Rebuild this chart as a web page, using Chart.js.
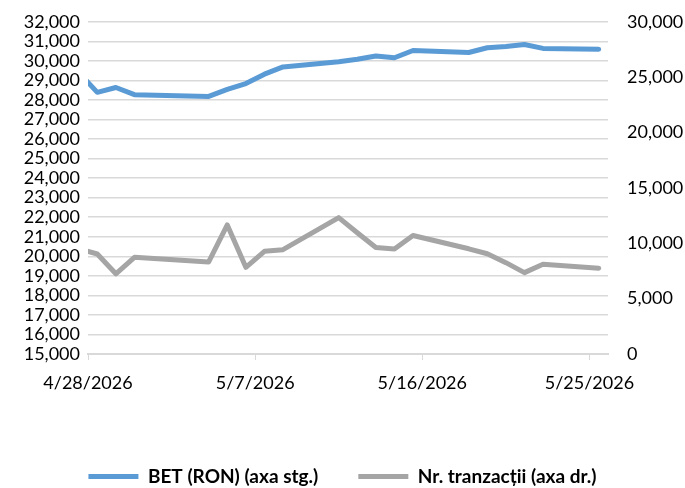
<!DOCTYPE html>
<html>
<head>
<meta charset="utf-8">
<script src="https://cdn.jsdelivr.net/npm/chart.js@4"></script>
<style>
  body { margin: 0; background: #ffffff; }
  #wrap { width: 685px; height: 488px; }
</style>
</head>
<body>
<div id="wrap"><canvas id="myChart" width="685" height="488"></canvas></div>
<script>
// trading days (first one falls just left of the axis and is clipped)
const dates = ['2026-04-27', '2026-04-28', '2026-04-29', '2026-04-30', '2026-05-04',
  '2026-05-05', '2026-05-06', '2026-05-07', '2026-05-08', '2026-05-11',
  '2026-05-12', '2026-05-13', '2026-05-14', '2026-05-15', '2026-05-18',
  '2026-05-19', '2026-05-20', '2026-05-21', '2026-05-22', '2026-05-25'];
const betValues = [29400, 28390, 28640, 28270, 28180,
  28540, 28840, 29320, 29690, 29960,
  30080, 30250, 30160, 30530, 30430,
  30670, 30740, 30840, 30640, 30600];
const tradeCounts = [9500, 9030, 7240, 8730, 8310,
  11660, 7830, 9270, 9420, 12320,
  10950, 9620, 9480, 10700, 9500,
  9050, 8250, 7350, 8100, 7750];
const seriesNames = ['BET (RON) (axa stg.)', 'Nr. tranzacții (axa dr.)'];
const axisStart = '2026-04-28';
const axisDays = 28;

const DAY = 86400000;
const t0 = Date.parse(axisStart + 'T00:00:00Z');
// points sit in the middle of their day
const xOf = d => (Date.parse(d + 'T00:00:00Z') - t0) / DAY + 0.5;
const fmtDate = v => {
  const d = new Date(t0 + v * DAY);
  return (d.getUTCMonth() + 1) + '/' + d.getUTCDate() + '/' + d.getUTCFullYear();
};
const fmtNum = v => v.toLocaleString('en-US');

const blue = '#5B9BD5';
const gray = '#A5A5A5';
const grid = '#D9D9D9';
const tickFont = { family: 'Lato, "Liberation Sans", sans-serif', size: 18 };

const ctx = document.getElementById('myChart').getContext('2d');
const myChart = new Chart(ctx, {
  type: 'line',
  data: {
    datasets: [{
      label: seriesNames[0],
      data: dates.map((d, i) => ({ x: xOf(d), y: betValues[i] })),
      borderColor: blue,
      backgroundColor: blue,
      borderWidth: 5,
      pointRadius: 0,
      borderJoinStyle: 'round',
      borderCapStyle: 'round',
      yAxisID: 'y'
    }, {
      label: seriesNames[1],
      data: dates.map((d, i) => ({ x: xOf(d), y: tradeCounts[i] })),
      borderColor: gray,
      backgroundColor: gray,
      borderWidth: 5,
      pointRadius: 0,
      borderJoinStyle: 'round',
      borderCapStyle: 'round',
      yAxisID: 'y1'
    }]
  },
  options: {
    responsive: false,
    animation: false,
    layout: { padding: { top: 14, left: 0, right: 0, bottom: -8 } },
    plugins: {
      tooltip: { enabled: false },
      legend: {
        position: 'bottom',
        labels: {
          color: '#000',
          font: { family: 'Lato, "Liberation Sans", sans-serif', size: 19, weight: 'bold' },
          boxWidth: 50,
          boxHeight: 5,
          padding: 40,
          useBorderRadius: true,
          borderRadius: 2.5,
          generateLabels: chart => chart.data.datasets.map((ds, i) => ({
            text: ds.label,
            fillStyle: ds.borderColor,
            strokeStyle: ds.borderColor,
            lineWidth: 0,
            fontColor: '#000',
            hidden: false,
            datasetIndex: i
          }))
        }
      }
    },
    scales: {
      x: {
        type: 'linear',
        min: 0,
        max: axisDays,
        afterFit: s => { s.height = 73; },
        grid: { drawOnChartArea: false, color: grid, tickLength: 6 },
        border: { color: grid, width: 2 },
        ticks: {
          stepSize: 9,
          includeBounds: false,
          maxRotation: 0,
          padding: 12,
          color: '#000',
          font: tickFont,
          callback: v => fmtDate(v)
        }
      },
      y: {
        position: 'left',
        min: 15000,
        max: 32000,
        afterFit: s => { s.width = 88; },
        grid: { color: grid, lineWidth: 1.5, drawTicks: false },
        border: { display: false },
        ticks: { stepSize: 1000, autoSkip: false, padding: 8, color: '#000', font: tickFont, callback: fmtNum }
      },
      y1: {
        position: 'right',
        min: 0,
        max: 30000,
        afterFit: s => { s.width = 77; },
        grid: { display: false },
        border: { display: false },
        ticks: { stepSize: 5000, autoSkip: false, padding: 11, color: '#000', font: tickFont, callback: fmtNum }
      }
    }
  }
});
</script>
</body>
</html>
